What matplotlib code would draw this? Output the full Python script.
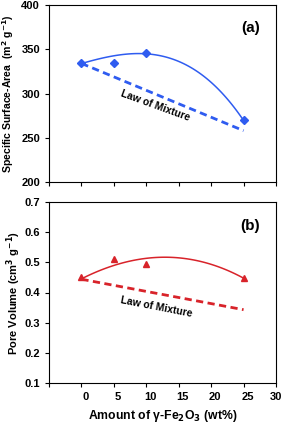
import numpy as np
import matplotlib
matplotlib.use("Agg")
import matplotlib.pyplot as plt
from matplotlib.transforms import ScaledTranslation

# data
wt = [0, 5, 10, 25]
surface_area = [334, 334, 346, 270]
pore_volume = [0.45, 0.51, 0.494, 0.447]

# trend curves (polynomial fit), read at a few x positions
trend_x = [0, 7.5, 15, 20, 25]
trend_sa = [334, 344, 338, 311, 270]
trend_pv = [0.445, 0.505, 0.513, 0.495, 0.447]

# law of mixture lines
mix_x = [0, 25]
mix_sa = [334, 258]
mix_pv = [0.444, 0.343]

blue = "#2f5cf0"
red = "#d8232a"

plt.rcParams["font.family"] = "Liberation Sans"
plt.rcParams["font.weight"] = "bold"
plt.rcParams["mathtext.default"] = "bf"
plt.rcParams["font.size"] = 8

fig = plt.figure(figsize=(2.83, 4.24), dpi=100)
ax1 = fig.add_axes([49 / 283, 1 - 182 / 424, 227 / 283, 177 / 424])
ax2 = fig.add_axes([49 / 283, 1 - 383 / 424, 227 / 283, 181 / 424])


def panel(ax, y, ty, ymix, color, marker, ms):
    c = np.polyfit(trend_x, ty, 3)
    xs = np.linspace(0, 25, 100)
    ax.plot(xs, np.polyval(c, xs), color=color, lw=1.1)
    ax.plot(wt, y, ls="none", marker=marker, color=color, ms=ms)
    ax.plot(mix_x, ymix, color=color, lw=2, ls=(0, (2.6, 1.6)))
    ax.set_xlim(-5, 30)
    ax.set_xticks(np.arange(-5, 31, 5))
    ax.tick_params(direction="out", length=3, width=0.8)
    for s in ax.spines.values():
        s.set_linewidth(0.8)


panel(ax1, surface_area, trend_sa, mix_sa, blue, "D", 4)
ax1.set_ylim(200, 400)
ax1.set_yticks(np.arange(200, 401, 50))
ax1.set_xticklabels([])
ax1.set_ylabel("Specific Surface-Area  (m$^2$ g$^{-1}$)", fontsize=7.6,
               fontweight="bold", labelpad=4)
ax1.text(0.93, 0.87, "(a)", transform=ax1.transAxes, ha="right", va="center",
         fontsize=11, fontweight="bold")
ax1.text(11.4, 286, "Law of Mixture", rotation=-20, ha="center", va="center",
         fontsize=7.5, fontweight="bold")

panel(ax2, pore_volume, trend_pv, mix_pv, red, "^", 5)
ax2.set_ylim(0.1, 0.7)
ax2.set_yticks(np.arange(0.1, 0.71, 0.1))
ax2.set_yticklabels(["%.1f" % v for v in np.arange(0.1, 0.71, 0.1)])
ax2.set_xticklabels([""] + [str(v) for v in range(0, 31, 5)])
ax2.set_ylabel("Pore Volume (cm$^3$ g$^{-1}$)", fontsize=8, fontweight="bold",
               labelpad=1)
ax2.set_xlabel("Amount of \u03b3-Fe$_2$O$_3$ (wt%)", fontsize=8.8, fontweight="bold")
ax2.text(0.93, 0.87, "(b)", transform=ax2.transAxes, ha="right", va="center",
         fontsize=11, fontweight="bold")
ax2.text(11.5, 0.352, "Law of Mixture", rotation=-11, ha="center", va="center",
         fontsize=7.5, fontweight="bold")

for ax in (ax1, ax2):
    for lab in ax.get_xticklabels() + ax.get_yticklabels():
        lab.set_fontweight("bold")

# tick labels in the original sit a little right of their ticks
shift = ScaledTranslation(4 / 100, 0, fig.dpi_scale_trans)
for lab in ax2.get_xticklabels()[:-1]:
    lab.set_transform(lab.get_transform() + shift)

fig.savefig("out.png", dpi=100)
